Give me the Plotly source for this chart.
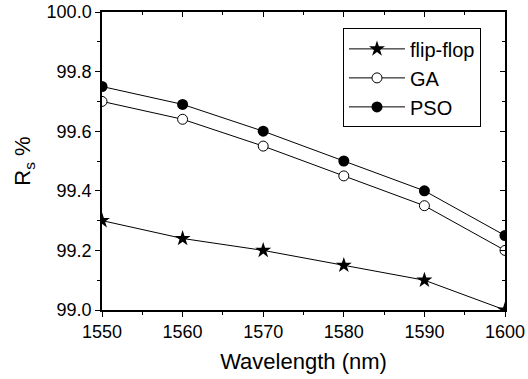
import plotly.graph_objects as go

wavelength = [1550, 1560, 1570, 1580, 1590, 1600]
flip_flop = [99.30, 99.24, 99.20, 99.15, 99.10, 99.00]
ga = [99.70, 99.64, 99.55, 99.45, 99.35, 99.20]
pso = [99.75, 99.69, 99.60, 99.50, 99.40, 99.25]
x_ticks = [1550, 1560, 1570, 1580, 1590, 1600]
y_ticks = [99.0, 99.2, 99.4, 99.6, 99.8, 100.0]
y_ticktext = ["99.0", "99.2", "99.4", "99.6", "99.8", "100.0"]

FONT = "Liberation Sans, Arial, sans-serif"

fig = go.Figure()
fig.add_trace(go.Scatter(x=wavelength, y=flip_flop, name="flip-flop", mode="lines+markers",
                         line=dict(color="black", width=1),
                         marker=dict(symbol="star", size=12, color="black")))
fig.add_trace(go.Scatter(x=wavelength, y=ga, name="GA", mode="lines+markers",
                         line=dict(color="black", width=1),
                         marker=dict(symbol="circle", size=10, color="white",
                                     line=dict(color="black", width=1))))
fig.add_trace(go.Scatter(x=wavelength, y=pso, name="PSO", mode="lines+markers",
                         line=dict(color="black", width=1),
                         marker=dict(symbol="circle", size=11, color="black")))
# invisible trace to activate the mirror axes
fig.add_trace(go.Scatter(x=[wavelength[0]], y=[flip_flop[0]], xaxis="x2", yaxis="y2",
                         mode="markers", marker=dict(opacity=0), showlegend=False, hoverinfo="skip"))

mirror_common = dict(showgrid=False, zeroline=False, linecolor="black", linewidth=1.5,
                     tickcolor="black", tickwidth=1, showticklabels=False, automargin=False)

fig.update_layout(
    width=528, height=379,
    margin=dict(l=102, r=23, t=12, b=69),
    paper_bgcolor="white", plot_bgcolor="white",
    font=dict(family=FONT, color="black"),
    xaxis=dict(range=[1550, 1600], tickvals=x_ticks,
               ticks="outside", ticklen=5, automargin=False, mirror=True,
               minor=dict(dtick=5, ticks="outside", ticklen=3, tickcolor="black"),
               title=dict(text="Wavelength (nm)", font=dict(family=FONT, size=22), standoff=12),
               showgrid=False, zeroline=False, linecolor="black", linewidth=1.5,
               tickcolor="black", tickwidth=1, tickfont=dict(family=FONT, size=18, color="black")),
    yaxis=dict(range=[99.0, 100.0], tickvals=y_ticks, ticktext=y_ticktext,
               ticks="outside", ticklen=5, automargin=False, mirror=True,
               minor=dict(dtick=0.1, ticks="outside", ticklen=3, tickcolor="black"),
               title=dict(text="R<sub>s</sub> %", font=dict(family=FONT, size=22), standoff=10),
               showgrid=False, zeroline=False, linecolor="black", linewidth=1.5,
               tickcolor="black", tickwidth=1, tickfont=dict(family=FONT, size=18, color="black")),
    xaxis2=dict(overlaying="x", side="top", anchor="y", range=[1550, 1600],
                tickvals=x_ticks, ticks="inside", ticklen=5,
                minor=dict(dtick=5, ticks="inside", ticklen=3, tickcolor="black"),
                **mirror_common),
    yaxis2=dict(overlaying="y", side="right", anchor="x", range=[99.0, 100.0],
                tickvals=y_ticks, ticks="inside", ticklen=5,
                minor=dict(dtick=0.1, ticks="inside", ticklen=3, tickcolor="black"),
                **mirror_common),
    legend=dict(x=0.598, y=0.945, xanchor="left", yanchor="top",
                bordercolor="black", borderwidth=1, bgcolor="white",
                font=dict(family=FONT, size=20, color="black"),
                itemwidth=56, tracegroupgap=0, traceorder="normal"),
    showlegend=True,
)

fig.write_html("out.html", config={"displayModeBar": False},
               post_script="document.body.style.margin='0';")
